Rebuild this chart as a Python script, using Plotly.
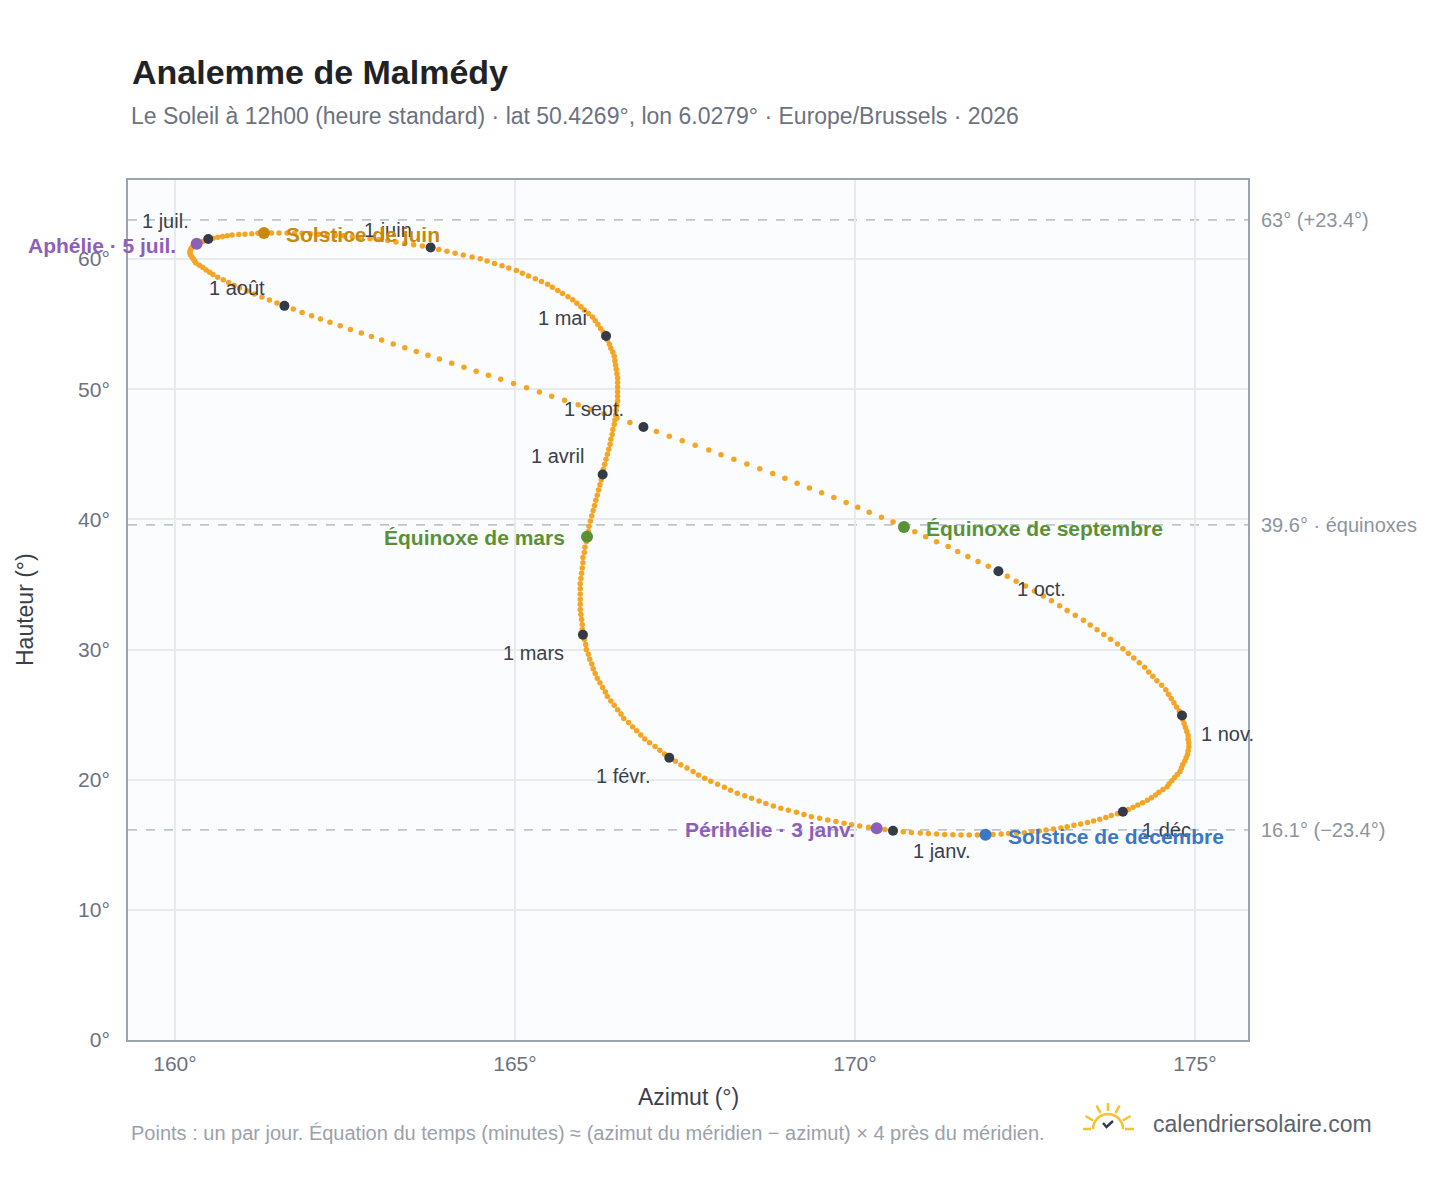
import pandas as pd
import plotly.graph_objects as go

# Analemme de Malmédy : position du Soleil chaque jour à 12h00 (heure standard), 2026
ANNEE = 2026

# azimut (°) lu pour chaque jour, du 1er janvier au 31 décembre
AZIMUT = [
    170.56, 170.44, 170.32, 170.20, 170.07, 169.95, 169.84, 169.72, 169.60, 169.48,
    169.36, 169.25, 169.14, 169.02, 168.91, 168.80, 168.69, 168.59, 168.48, 168.38,
    168.27, 168.17, 168.08, 167.98, 167.88, 167.79, 167.70, 167.62, 167.53, 167.44,
    167.36, 167.27, 167.20, 167.13, 167.06, 166.98, 166.91, 166.85, 166.79, 166.73,
    166.67, 166.60, 166.56, 166.51, 166.46, 166.41, 166.36, 166.33, 166.29, 166.25,
    166.21, 166.18, 166.15, 166.13, 166.10, 166.08, 166.05, 166.04, 166.02, 166.00,
    165.99, 165.99, 165.98, 165.97, 165.96, 165.96, 165.96, 165.96, 165.96, 165.96,
    165.97, 165.98, 165.99, 166.00, 166.00, 166.02, 166.03, 166.05, 166.06, 166.08,
    166.09, 166.11, 166.13, 166.15, 166.17, 166.19, 166.21, 166.23, 166.25, 166.27,
    166.29, 166.30, 166.32, 166.34, 166.36, 166.38, 166.40, 166.41, 166.43, 166.44,
    166.46, 166.47, 166.48, 166.49, 166.50, 166.51, 166.51, 166.51, 166.51, 166.51,
    166.51, 166.50, 166.49, 166.48, 166.47, 166.46, 166.44, 166.41, 166.39, 166.36,
    166.34, 166.30, 166.26, 166.22, 166.18, 166.14, 166.08, 166.02, 165.97, 165.91,
    165.85, 165.78, 165.70, 165.63, 165.55, 165.48, 165.39, 165.30, 165.20, 165.11,
    165.02, 164.91, 164.81, 164.70, 164.59, 164.49, 164.37, 164.24, 164.12, 164.00,
    163.88, 163.76, 163.64, 163.51, 163.38, 163.25, 163.13, 163.00, 162.87, 162.74,
    162.61, 162.48, 162.36, 162.24, 162.11, 161.99, 161.87, 161.76, 161.65, 161.53,
    161.42, 161.31, 161.22, 161.13, 161.03, 160.94, 160.84, 160.77, 160.70, 160.63,
    160.56, 160.49, 160.45, 160.41, 160.36, 160.32, 160.28, 160.26, 160.24, 160.23,
    160.22, 160.22, 160.23, 160.25, 160.27, 160.29, 160.31, 160.36, 160.41, 160.46,
    160.51, 160.56, 160.63, 160.71, 160.79, 160.87, 160.95, 161.06, 161.17, 161.28,
    161.39, 161.50, 161.61, 161.74, 161.87, 162.01, 162.14, 162.28, 162.43, 162.58,
    162.74, 162.89, 163.04, 163.21, 163.38, 163.55, 163.72, 163.89, 164.07, 164.25,
    164.43, 164.61, 164.79, 164.98, 165.17, 165.36, 165.54, 165.73, 165.93, 166.12,
    166.31, 166.50, 166.69, 166.89, 167.08, 167.27, 167.46, 167.65, 167.85, 168.03,
    168.22, 168.41, 168.60, 168.79, 168.97, 169.15, 169.33, 169.51, 169.69, 169.87,
    170.04, 170.21, 170.39, 170.56, 170.72, 170.88, 171.04, 171.20, 171.37, 171.51,
    171.66, 171.81, 171.96, 172.11, 172.24, 172.37, 172.51, 172.64, 172.77, 172.89,
    173.01, 173.12, 173.24, 173.36, 173.46, 173.56, 173.66, 173.76, 173.86, 173.94,
    174.02, 174.10, 174.18, 174.26, 174.32, 174.38, 174.44, 174.51, 174.57, 174.61,
    174.65, 174.69, 174.73, 174.77, 174.81, 174.82, 174.84, 174.86, 174.88, 174.90,
    174.90, 174.91, 174.91, 174.90, 174.89, 174.87, 174.85, 174.82, 174.80, 174.78,
    174.74, 174.70, 174.66, 174.62, 174.59, 174.53, 174.47, 174.42, 174.36, 174.30,
    174.23, 174.16, 174.09, 174.02, 173.94, 173.86, 173.77, 173.69, 173.60, 173.51,
    173.42, 173.32, 173.22, 173.12, 173.03, 172.92, 172.81, 172.71, 172.60, 172.49,
    172.38, 172.26, 172.15, 172.03, 171.92, 171.80, 171.68, 171.56, 171.44, 171.32,
    171.20, 171.08, 170.96, 170.83, 170.71,
]

# hauteur (°) pour les mêmes jours
HAUTEUR = [
    16.08, 16.17, 16.26, 16.35, 16.44, 16.53, 16.65, 16.78, 16.91, 17.03,
    17.16, 17.32, 17.49, 17.65, 17.81, 17.98, 18.17, 18.37, 18.57, 18.76,
    18.96, 19.19, 19.42, 19.64, 19.87, 20.10, 20.36, 20.63, 20.89, 21.15,
    21.41, 21.68, 21.97, 22.26, 22.54, 22.83, 23.12, 23.44, 23.75, 24.07,
    24.39, 24.70, 25.04, 25.37, 25.71, 26.04, 26.38, 26.73, 27.09, 27.44,
    27.80, 28.15, 28.52, 28.89, 29.26, 29.63, 30.00, 30.38, 30.76, 31.14,
    31.53, 31.92, 32.31, 32.69, 33.08, 33.48, 33.87, 34.27, 34.66, 35.06,
    35.46, 35.86, 36.26, 36.66, 37.06, 37.46, 37.86, 38.27, 38.67, 39.07,
    39.47, 39.87, 40.27, 40.67, 41.07, 41.47, 41.86, 42.26, 42.66, 43.05,
    43.45, 43.84, 44.23, 44.62, 45.00, 45.39, 45.77, 46.15, 46.52, 46.90,
    47.28, 47.64, 48.01, 48.38, 48.74, 49.11, 49.46, 49.81, 50.16, 50.51,
    50.86, 51.19, 51.53, 51.86, 52.19, 52.53, 52.84, 53.15, 53.46, 53.78,
    54.09, 54.38, 54.67, 54.97, 55.26, 55.55, 55.81, 56.08, 56.34, 56.61,
    56.87, 57.11, 57.35, 57.59, 57.83, 58.07, 58.28, 58.49, 58.70, 58.91,
    59.12, 59.30, 59.48, 59.66, 59.84, 60.02, 60.16, 60.30, 60.45, 60.59,
    60.74, 60.88, 60.99, 61.09, 61.20, 61.31, 61.42, 61.49, 61.56, 61.64,
    61.71, 61.78, 61.82, 61.86, 61.90, 61.94, 61.98, 61.98, 61.99, 61.99,
    61.99, 62.00, 61.97, 61.94, 61.91, 61.88, 61.85, 61.79, 61.73, 61.67,
    61.60, 61.54, 61.45, 61.35, 61.26, 61.17, 61.08, 60.95, 60.83, 60.71,
    60.58, 60.46, 60.31, 60.15, 60.00, 59.85, 59.70, 59.52, 59.34, 59.16,
    58.99, 58.81, 58.60, 58.40, 58.19, 57.99, 57.78, 57.55, 57.32, 57.09,
    56.86, 56.63, 56.40, 56.15, 55.89, 55.64, 55.39, 55.14, 54.87, 54.59,
    54.32, 54.05, 53.77, 53.48, 53.19, 52.89, 52.60, 52.31, 52.00, 51.69,
    51.38, 51.07, 50.76, 50.44, 50.11, 49.79, 49.46, 49.14, 48.80, 48.46,
    48.12, 47.78, 47.44, 47.10, 46.74, 46.39, 46.04, 45.69, 45.33, 44.97,
    44.61, 44.25, 43.89, 43.52, 43.15, 42.78, 42.41, 42.05, 41.68, 41.30,
    40.92, 40.55, 40.17, 39.80, 39.42, 39.04, 38.66, 38.28, 37.91, 37.53,
    37.15, 36.77, 36.39, 36.01, 35.63, 35.25, 34.88, 34.50, 34.12, 33.75,
    33.37, 33.00, 32.63, 32.25, 31.89, 31.52, 31.15, 30.79, 30.42, 30.06,
    29.70, 29.35, 28.99, 28.63, 28.28, 27.94, 27.59, 27.25, 26.90, 26.57,
    26.24, 25.91, 25.59, 25.26, 24.93, 24.62, 24.31, 24.00, 23.70, 23.39,
    23.10, 22.81, 22.52, 22.23, 21.94, 21.68, 21.42, 21.16, 20.90, 20.63,
    20.40, 20.16, 19.92, 19.69, 19.45, 19.24, 19.03, 18.83, 18.62, 18.41,
    18.23, 18.06, 17.88, 17.70, 17.53, 17.39, 17.24, 17.10, 16.96, 16.82,
    16.71, 16.60, 16.49, 16.38, 16.28, 16.21, 16.13, 16.06, 15.99, 15.92,
    15.89, 15.86, 15.82, 15.79, 15.76, 15.75, 15.74, 15.75, 15.76, 15.78,
    15.82, 15.86, 15.91, 15.95, 15.99,
]

MOIS = ["1 janv.", "1 févr.", "1 mars", "1 avril", "1 mai", "1 juin",
        "1 juil.", "1 août", "1 sept.", "1 oct.", "1 nov.", "1 déc."]

EVENEMENTS = ["Périhélie · 3 janv.", "Équinoxe de mars", "Solstice de juin",
              "Aphélie · 5 juil.", "Équinoxe de septembre", "Solstice de décembre"]
EVENEMENTS_DATES = ["2026-01-03", "2026-03-20", "2026-06-21",
                    "2026-07-05", "2026-09-22", "2026-12-21"]

# hauteurs de référence : solstice d'été, équinoxes, solstice d'hiver
NIVEAUX = [63.01, 39.57, 16.14]
NIVEAUX_TEXTES = ["63° (+23.4°)", "39.6° · équinoxes", "16.1° (−23.4°)"]

X_TICKS = [160, 165, 170, 175]
Y_TICKS = [0, 10, 20, 30, 40, 50, 60]

POLICE = "Liberation Sans, Arial, Helvetica, sans-serif"
ORANGE = "#F5A524"
SOMBRE = "#343A46"
COULEURS_EVT = ["#8E5FBA", "#5A9135", "#C8890F", "#8E5FBA", "#5A9135", "#3A78C4"]
# placement des étiquettes : (décalage x, décalage y, ancrage)
PLACE_EVT = [(-20, -1, "right"), (-20, -1, "right"), (20, -2, "left"),
             (-19, -2, "right"), (20, -2, "left"), (20, -2, "left")]

# zone de tracé en pixels (gauche, droite, haut, bas)
G, D, H, B = 128, 1248, 180, 1040


def place_mois(m):
    if 4 <= m <= 9:
        return -17, 18, "right"
    if m in (2, 3):
        return -17, -18, "right"
    if m == 1:
        return 18, -20, "left"
    return 17, -18, "left"


def papier(px, py):
    return (px - G) / (D - G), (B - py) / (B - H)


def trace_logo(cx, cy, segments):
    # segments : listes de points (dx, dy) en pixels, dy vers le haut
    morceaux = []
    for seg in segments:
        pts = [papier(cx + dx, cy - dy) for dx, dy in seg]
        morceaux.append("M " + " L ".join(f"{x:.5f},{y:.5f}" for x, y in pts))
    return " ".join(morceaux)


df = pd.DataFrame({
    "date": pd.date_range(f"{ANNEE}-01-01", periods=len(AZIMUT), freq="D"),
    "azimut": AZIMUT,
    "hauteur": HAUTEUR,
})
debuts = df[df["date"].dt.day == 1]
evts = df.set_index("date").loc[pd.to_datetime(EVENEMENTS_DATES)]

fig = go.Figure()

fig.add_trace(go.Scatter(
    x=df["azimut"], y=df["hauteur"], mode="markers",
    marker=dict(size=5.5, color=ORANGE, line=dict(width=0)),
    hoverinfo="skip", showlegend=False,
))
fig.add_trace(go.Scatter(
    x=debuts["azimut"], y=debuts["hauteur"], mode="markers",
    marker=dict(size=10, color=SOMBRE, line=dict(width=0)),
    showlegend=False,
))
fig.add_trace(go.Scatter(
    x=evts["azimut"], y=evts["hauteur"], mode="markers",
    marker=dict(size=12, color=COULEURS_EVT, line=dict(width=0)),
    showlegend=False,
))

annotations = []
for (_, row), texte in zip(debuts.iterrows(), MOIS):
    dx, dy, ancre = place_mois(row["date"].month)
    annotations.append(dict(
        x=row["azimut"], y=row["hauteur"], text=texte, showarrow=False,
        xshift=dx, yshift=dy, xanchor=ancre, yanchor="middle",
        font=dict(family=POLICE, size=20, color="#3A404B"),
    ))

for (_, row), texte, coul, (dx, dy, ancre) in zip(evts.iterrows(), EVENEMENTS, COULEURS_EVT, PLACE_EVT):
    annotations.append(dict(
        x=row["azimut"], y=row["hauteur"], text=f"<b>{texte}</b>", showarrow=False,
        xshift=dx, yshift=dy, xanchor=ancre, yanchor="middle",
        font=dict(family=POLICE, size=21, color=coul),
    ))

shapes = []
for niveau, texte in zip(NIVEAUX, NIVEAUX_TEXTES):
    shapes.append(dict(
        type="line", xref="paper", yref="y", x0=0, x1=1, y0=niveau, y1=niveau,
        line=dict(color="#BCC5CF", width=1.7, dash="dash"), layer="below",
    ))
    annotations.append(dict(
        xref="paper", yref="y", x=1, y=niveau, xshift=11, xanchor="left", yanchor="middle",
        text=texte, showarrow=False, font=dict(family=POLICE, size=20, color="#8C949F"),
    ))

# titres, notes et marque
tx, ty = papier(130, 72)
sx, sy = papier(129, 116)
ax_x, ax_y = papier(688, 1097)
ay_x, ay_y = papier(25, 610)
nx, ny = papier(129, 1133)
lx, ly = papier(1151, 1124)
annotations += [
    dict(xref="paper", yref="paper", x=tx, y=ty, xanchor="left", yanchor="middle",
         text="<b>Analemme de Malmédy</b>", showarrow=False,
         font=dict(family=POLICE, size=34, color="#1F2328")),
    dict(xref="paper", yref="paper", x=sx, y=sy, xanchor="left", yanchor="middle",
         text="Le Soleil à 12h00 (heure standard) · lat 50.4269°, lon 6.0279° · Europe/Brussels · 2026",
         showarrow=False, font=dict(family=POLICE, size=23, color="#6B7280")),
    dict(xref="paper", yref="paper", x=ax_x, y=ax_y, xanchor="center", yanchor="middle",
         text="Azimut (°)", showarrow=False, font=dict(family=POLICE, size=23, color="#3A404B")),
    dict(xref="paper", yref="paper", x=ay_x, y=ay_y, xanchor="center", yanchor="middle",
         text="Hauteur (°)", textangle=-90, showarrow=False,
         font=dict(family=POLICE, size=23, color="#3A404B")),
    dict(xref="paper", yref="paper", x=nx, y=ny, xanchor="left", yanchor="middle",
         text="Points : un par jour. Équation du temps (minutes) ≈ (azimut du méridien − azimut) × 4 près du méridien.",
         showarrow=False, font=dict(family=POLICE, size=20, color="#9AA1AB")),
    dict(xref="paper", yref="paper", x=lx, y=ly, xanchor="left", yanchor="middle",
         text="calendriersolaire.com", showarrow=False,
         font=dict(family=POLICE, size=23, color="#5C6370")),
]

# petit soleil du logo, dessiné autour de son centre (en pixels)
arc = [(-15, 0), (-14.5, 3.9), (-13, 7.5), (-10.6, 10.6), (-7.5, 13), (-3.9, 14.5), (0, 15),
       (3.9, 14.5), (7.5, 13), (10.6, 10.6), (13, 7.5), (14.5, 3.9), (15, 0)]
rayons = [[(-25, 0), (-17, 0)], [(17, 0), (26, 0)], [(0, 18), (0, 26)],
          [(-7.5, 16), (-11.5, 23.5)], [(7.5, 16), (11.5, 23.5)],
          [(-15, 8.5), (-22.5, 13)], [(15, 8.5), (22.5, 13)]]
shapes.append(dict(type="path", xref="paper", yref="paper",
                   path=trace_logo(1108, 1129, [arc] + rayons),
                   line=dict(color="#F4C430", width=2.6)))
shapes.append(dict(type="path", xref="paper", yref="paper",
                   path=trace_logo(1108, 1129, [[(-5, 6), (-1.5, 2), (5, 8)]]),
                   line=dict(color="#2B3A55", width=2.4)))

axe = dict(
    showgrid=True, gridcolor="#E6EBF0", gridwidth=1.5, zeroline=False,
    showline=True, mirror=True, linecolor="#9AA5B1", linewidth=2,
    ticks="outside", tickcolor="rgba(0,0,0,0)",
    tickfont=dict(family=POLICE, size=21, color="#6B7280"),
)

fig.update_layout(
    width=1448, height=1188,
    margin=dict(l=G, r=1448 - D, t=H, b=1188 - B),
    paper_bgcolor="white", plot_bgcolor="#FAFCFE",
    showlegend=False,
    xaxis=dict(axe, range=[159.31, 175.78], tickvals=X_TICKS,
               ticktext=[f"{v}°" for v in X_TICKS], ticklen=4),
    yaxis=dict(axe, range=[0, 66.07], tickvals=Y_TICKS,
               ticktext=[f"{v}°" for v in Y_TICKS], ticklen=12),
    annotations=annotations,
    shapes=shapes,
    font=dict(family=POLICE),
)

fig.write_html("out.html", config={"displayModeBar": False},
               post_script="document.body.style.margin='0';")
